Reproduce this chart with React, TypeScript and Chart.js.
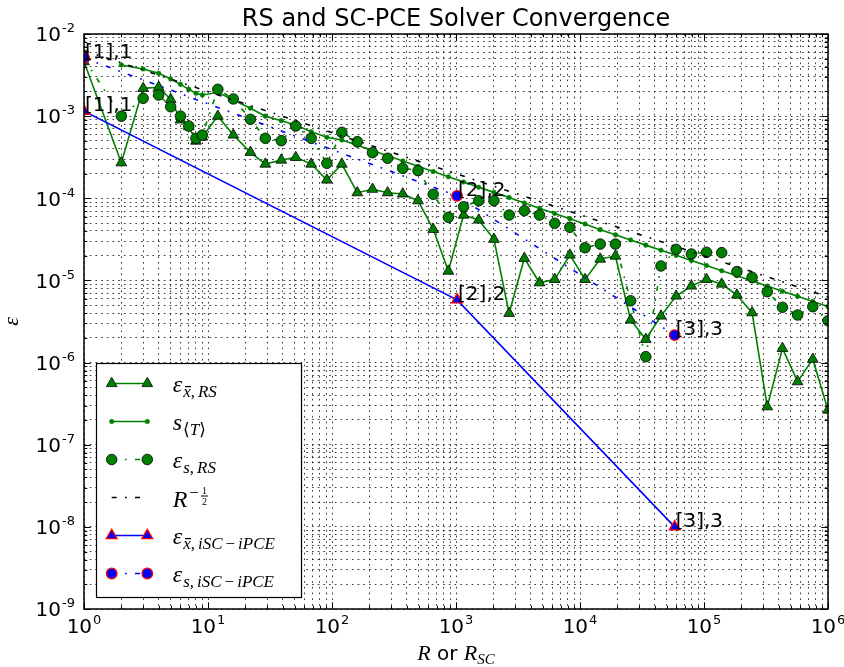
import React, { useEffect, useRef } from "react";
import { Chart, registerables } from "chart.js";

Chart.register(...registerables);

// ---------------- data ----------------
const R_RS = [
  1, 2, 3, 4, 5, 6, 7, 8, 9, 12, 16, 22, 29, 39, 51, 68, 91, 120, 160, 212, 281, 372, 494, 655, 868,
  1151, 1526, 2023, 2682, 3556, 4714, 6250, 8286, 10985, 14563, 19307, 25595, 33932, 44984, 59636,
  79060, 104811, 138950, 184207, 244205, 323746, 429193, 568987, 754312, 1000000,
];

const EPS_XBAR_RS = [
  4.6e-3, 2.71e-4, 2.18e-3, 2.25e-3, 1.6e-3, 9.0e-4, 7.45e-4, 4.97e-4, 5.57e-4, 1.0e-3, 5.9e-4,
  3.63e-4, 2.61e-4, 2.92e-4, 3.15e-4, 2.61e-4, 1.67e-4, 2.61e-4, 1.17e-4, 1.29e-4, 1.17e-4, 1.13e-4,
  9.35e-5, 4.19e-5, 1.3e-5, 6.25e-5, 5.44e-5, 3.17e-5, 3.98e-6, 1.86e-5, 9.37e-6, 1.03e-5, 2.04e-5,
  1.03e-5, 1.82e-5, 1.98e-5, 3.3e-6, 1.92e-6, 3.69e-6, 6.46e-6, 8.55e-6, 1.03e-5, 9.04e-6, 6.64e-6,
  4.05e-6, 2.9e-7, 1.49e-6, 5.85e-7, 1.1e-6, 2.64e-7,
];

const S_T = [
  null, 4.2e-3, 3.75e-3, 3.32e-3, 2.83e-3, 2.44e-3, 2.12e-3, 1.9e-3, 1.81e-3, 1.95e-3, 1.57e-3,
  1.25e-3, 1.0e-3, 8.8e-4, 7.8e-4, 6.47e-4, 5.52e-4, 5.13e-4, 4.41e-4, 3.81e-4, 3.29e-4, 2.84e-4,
  2.45e-4, 2.12e-4, 1.83e-4, 1.58e-4, 1.36e-4, 1.18e-4, 1.02e-4, 8.77e-5, 7.57e-5, 6.53e-5, 5.65e-5,
  4.87e-5, 4.15e-5, 3.59e-5, 3.11e-5, 2.69e-5, 2.33e-5, 2.02e-5, 1.75e-5, 1.52e-5, 1.31e-5, 1.14e-5,
  9.85e-6, 8.53e-6, 7.39e-6, 6.4e-6, 5.54e-6, 4.81e-6,
];

const EPS_S_RS = [
  5.0e-3, 1.0e-3, 1.65e-3, 1.81e-3, 1.3e-3, 1.0e-3, 7.58e-4, 5.37e-4, 5.89e-4, 2.12e-3, 1.62e-3,
  9.16e-4, 5.37e-4, 5.03e-4, 7.58e-4, 5.37e-4, 2.67e-4, 6.35e-4, 4.89e-4, 3.59e-4, 3.07e-4, 2.32e-4,
  2.17e-4, 1.12e-4, 5.86e-5, 7.9e-5, 9.35e-5, 9.35e-5, 6.25e-5, 7.06e-5, 6.25e-5, 4.96e-5, 4.43e-5,
  2.5e-5, 2.77e-5, 2.77e-5, 5.66e-6, 1.18e-6, 1.5e-5, 2.39e-5, 2.1e-5, 2.2e-5, 2.18e-5, 1.28e-5,
  1.09e-5, 7.29e-6, 4.71e-6, 3.8e-6, 4.79e-6, 3.23e-6,
];

const R_REF = [1, 1000000];
const REF_HALF = [6.3e-3, 6.3e-6];

const R_SC = [1, 1020, 58000];
const EPS_XBAR_SC = [1.15e-3, 5.8e-6, 1.0e-8];
const EPS_S_SC = [5.1e-3, 1.07e-4, 2.16e-6];
const SC_LABELS = ["[1],1", "[2],2", "[3],3"];

const X_EXPONENTS = [0, 1, 2, 3, 4, 5, 6];
const Y_EXPONENTS = [-9, -8, -7, -6, -5, -4, -3, -2];
const TITLE = "RS and SC-PCE Solver Convergence";

// ---------------- styles ----------------
const GREEN = "#008000";
const BLUE = "#0000ff";
const RED = "#ff0000";
const DASHDOT = [5, 8.3, 1.7, 8.3];
const LW = 1.6;

const SANS = '"DejaVu Sans"';
const SERIF = '"Liberation Serif", "DejaVu Serif", "DejaVu Sans"';

function pts(xs: number[], ys: (number | null)[]) {
  const out: { x: number; y: number }[] = [];
  xs.forEach((x, i) => {
    const y = ys[i];
    if (y !== null && y !== undefined) out.push({ x, y });
  });
  return out;
}

function logTicks(expList: number[]) {
  const t: { value: number }[] = [];
  for (let k = 0; k < expList.length - 1; k++) {
    const p = Math.pow(10, expList[k]);
    for (let m = 1; m <= 9; m++) t.push({ value: m * p });
  }
  t.push({ value: Math.pow(10, expList[expList.length - 1]) });
  return t;
}

type Seg = { t: string; f: string; dy?: number; bar?: boolean; gap?: number };

function drawSegs(ctx: CanvasRenderingContext2D, x: number, y: number, segs: Seg[], measureOnly = false) {
  let cx = x;
  for (const s of segs) {
    cx += s.gap || 0;
    ctx.font = s.f;
    const w = ctx.measureText(s.t).width;
    if (!measureOnly) {
      ctx.fillText(s.t, cx, y + (s.dy || 0));
      if (s.bar) ctx.fillRect(cx + w * 0.25, y + (s.dy || 0) - 10.5, w * 0.8, 1.2);
    }
    cx += w;
  }
  return cx - x;
}

function drawMarker(ctx: CanvasRenderingContext2D, kind: string, x: number, y: number, r: number, fill: string, edge: string, ew: number) {
  ctx.save();
  ctx.beginPath();
  if (kind === "triangle") {
    ctx.moveTo(x, y - r);
    ctx.lineTo(x + 0.866 * r, y + 0.5 * r);
    ctx.lineTo(x - 0.866 * r, y + 0.5 * r);
    ctx.closePath();
  } else {
    ctx.arc(x, y, r, 0, Math.PI * 2);
  }
  ctx.fillStyle = fill;
  ctx.fill();
  ctx.lineWidth = ew;
  ctx.strokeStyle = edge;
  ctx.stroke();
  ctx.restore();
}

function drawPow(ctx: CanvasRenderingContext2D, exp: number, x: number, baseline: number, align: "center" | "right") {
  const base = "10";
  const sup = String(exp);
  ctx.font = `20px ${SANS}`;
  const wb = ctx.measureText(base).width;
  ctx.font = `13px ${SANS}`;
  const ws = ctx.measureText(sup).width;
  const total = wb + 1 + ws;
  const left = align === "center" ? x - total / 2 : x - total;
  ctx.textAlign = "left";
  ctx.textBaseline = "alphabetic";
  ctx.font = `20px ${SANS}`;
  ctx.fillText(base, left, baseline);
  ctx.font = `13px ${SANS}`;
  ctx.fillText(sup, left + wb + 1, baseline - 9);
}

const decoPlugin = {
  id: "deco",
  afterDatasetsDraw(chart: any) {
    const ctx: CanvasRenderingContext2D = chart.ctx;
    const xs = chart.scales.x;
    const ys = chart.scales.y;
    ctx.save();
    ctx.fillStyle = "#000";
    ctx.font = `20px ${SANS}`;
    ctx.textAlign = "left";
    ctx.textBaseline = "alphabetic";
    R_SC.forEach((r, i) => {
      const px = xs.getPixelForValue(r);
      ctx.fillText(SC_LABELS[i], px + 1, ys.getPixelForValue(EPS_S_SC[i]));
      ctx.fillText(SC_LABELS[i], px + 1, ys.getPixelForValue(EPS_XBAR_SC[i]));
    });
    ctx.restore();
  },
  afterDraw(chart: any) {
    const ctx: CanvasRenderingContext2D = chart.ctx;
    const a = chart.chartArea;
    const xs = chart.scales.x;
    const ys = chart.scales.y;
    ctx.save();

    // inside tick marks on all four sides
    ctx.strokeStyle = "#000";
    ctx.lineWidth = 1;
    const xt = logTicks(X_EXPONENTS);
    xt.forEach((t) => {
      const major = Math.abs(Math.log10(t.value) - Math.round(Math.log10(t.value))) < 1e-9;
      const L = major ? 6.7 : 3.3;
      const px = Math.round(xs.getPixelForValue(t.value)) + 0.5;
      ctx.beginPath();
      ctx.moveTo(px, a.bottom);
      ctx.lineTo(px, a.bottom - L);
      ctx.moveTo(px, a.top);
      ctx.lineTo(px, a.top + L);
      ctx.stroke();
    });
    const yt = logTicks(Y_EXPONENTS);
    yt.forEach((t) => {
      const major = Math.abs(Math.log10(t.value) - Math.round(Math.log10(t.value))) < 1e-9;
      const L = major ? 6.7 : 3.3;
      const py = Math.round(ys.getPixelForValue(t.value)) + 0.5;
      ctx.beginPath();
      ctx.moveTo(a.left, py);
      ctx.lineTo(a.left + L, py);
      ctx.moveTo(a.right, py);
      ctx.lineTo(a.right - L, py);
      ctx.stroke();
    });

    // spines
    ctx.lineWidth = 1.5;
    ctx.strokeRect(a.left, a.top, a.right - a.left, a.bottom - a.top);

    // tick labels
    ctx.fillStyle = "#000";
    X_EXPONENTS.forEach((e) => drawPow(ctx, e, xs.getPixelForValue(Math.pow(10, e)), 633, "center"));
    Y_EXPONENTS.forEach((e) => drawPow(ctx, e, 75, ys.getPixelForValue(Math.pow(10, e)) + 7.3, "right"));

    // title
    ctx.font = `24px ${SANS}`;
    ctx.textAlign = "center";
    ctx.textBaseline = "alphabetic";
    ctx.fillText(TITLE, (a.left + a.right) / 2, 26);

    // x label: R or R_SC
    ctx.textAlign = "left";
    const xl: Seg[] = [
      { t: "R", f: `italic 22px ${SERIF}` },
      { t: " or ", f: `20px ${SANS}` },
      { t: "R", f: `italic 22px ${SERIF}` },
      { t: "SC", f: `italic 15px ${SERIF}`, dy: 4 },
    ];
    const wxl = drawSegs(ctx, 0, 0, xl, true);
    drawSegs(ctx, (a.left + a.right) / 2 - wxl / 2, 660, xl);

    // y label
    ctx.save();
    ctx.translate(18, (a.top + a.bottom) / 2);
    ctx.rotate(-Math.PI / 2);
    ctx.textAlign = "center";
    ctx.font = `italic 22px ${SERIF}`;
    ctx.fillText("\u03b5", 0, 0);
    ctx.restore();

    // legend
    const bx = 96.5, by = 363.5, bw = 205, bh = 234;
    ctx.fillStyle = "#fff";
    ctx.fillRect(bx, by, bw, bh);
    ctx.lineWidth = 1.2;
    ctx.strokeStyle = "#000";
    ctx.strokeRect(bx, by, bw, bh);

    const x1 = 111.7, x2 = 147.3, tx = 172.7;
    const rows = [383.5, 421.5, 459.5, 497.5, 535.5, 573.5];
    const line = (y: number, color: string, dash: number[]) => {
      ctx.save();
      ctx.strokeStyle = color;
      ctx.lineWidth = LW;
      ctx.setLineDash(dash);
      ctx.beginPath();
      ctx.moveTo(x1, y);
      ctx.lineTo(x2, y);
      ctx.stroke();
      ctx.restore();
    };
    // handles
    line(rows[0], GREEN, []);
    drawMarker(ctx, "triangle", x1, rows[0], 6.2, GREEN, "#000", 0.8);
    drawMarker(ctx, "triangle", x2, rows[0], 6.2, GREEN, "#000", 0.8);
    line(rows[1], GREEN, []);
    drawMarker(ctx, "circle", x1, rows[1], 2.3, GREEN, GREEN, 0.5);
    drawMarker(ctx, "circle", x2, rows[1], 2.3, GREEN, GREEN, 0.5);
    line(rows[2], GREEN, DASHDOT);
    drawMarker(ctx, "circle", x1, rows[2], 5.3, GREEN, "#000", 0.8);
    drawMarker(ctx, "circle", x2, rows[2], 5.3, GREEN, "#000", 0.8);
    line(rows[3], "#000", DASHDOT);
    line(rows[4], BLUE, []);
    drawMarker(ctx, "triangle", x1, rows[4], 6.2, BLUE, RED, 1.3);
    drawMarker(ctx, "triangle", x2, rows[4], 6.2, BLUE, RED, 1.3);
    line(rows[5], BLUE, DASHDOT);
    drawMarker(ctx, "circle", x1, rows[5], 5.3, BLUE, RED, 1.3);
    drawMarker(ctx, "circle", x2, rows[5], 5.3, BLUE, RED, 1.3);

    // labels
    ctx.fillStyle = "#000";
    ctx.textAlign = "left";
    ctx.textBaseline = "alphabetic";
    const LM = `italic 24px ${SERIF}`;
    const LS = `italic 17px ${SERIF}`;
    const LU = `17px ${SERIF}`;
    const eps: Seg = { t: "\u03b5", f: LM };
    const xbar: Seg = { t: "x", f: LS, dy: 5, bar: true, gap: 1 };
    const comma: Seg = { t: ",", f: LU, dy: 5 };
    const rs: Seg = { t: "RS", f: LS, dy: 5, gap: 3 };
    const isc: Seg[] = [
      { t: "iSC", f: LS, dy: 5, gap: 3 },
      { t: "\u2212", f: LU, dy: 5, gap: 3 },
      { t: "iPCE", f: LS, dy: 5, gap: 3 },
    ];
    drawSegs(ctx, tx, rows[0] + 8, [eps, xbar, comma, rs]);
    drawSegs(ctx, tx, rows[1] + 8, [
      { t: "s", f: LM },
      { t: "\u27e8", f: LU, dy: 5, gap: 1 },
      { t: "T", f: LS, dy: 5 },
      { t: "\u27e9", f: LU, dy: 5 },
    ]);
    drawSegs(ctx, tx, rows[2] + 8, [eps, { t: "s", f: LS, dy: 5, gap: 1 }, comma, rs]);
    // R^{-1/2}
    const wR = drawSegs(ctx, tx, rows[3] + 9, [{ t: "R", f: LM }]);
    const mx = tx + wR + 2;
    ctx.font = LU;
    ctx.fillText("\u2212", mx, rows[3]);
    const wm = ctx.measureText("\u2212").width;
    const fx = mx + wm + 2;
    ctx.font = `10px ${SERIF}`;
    const fw = ctx.measureText("2").width + 2;
    ctx.fillText("1", fx + 1, rows[3] - 3.5);
    ctx.fillRect(fx, rows[3] - 2, fw, 1);
    ctx.fillText("2", fx + 1, rows[3] + 7);
    drawSegs(ctx, tx, rows[4] + 8, [eps, xbar, comma, ...isc]);
    drawSegs(ctx, tx, rows[5] + 8, [eps, { t: "s", f: LS, dy: 5, gap: 1 }, comma, ...isc]);

    ctx.restore();
  },
};

export default function App() {
  const ref = useRef<HTMLCanvasElement | null>(null);
  useEffect(() => {
    if (!ref.current) return;
    const gridCommon = {
      color: "rgba(0,0,0,0.75)",
      lineWidth: 1,
      drawTicks: false,
      tickLength: 0,
    };
    const chart = new Chart(ref.current, {
      type: "line",
      data: {
        datasets: [
          {
            label: "eps_xbar_RS",
            data: pts(R_RS, EPS_XBAR_RS),
            borderColor: GREEN,
            backgroundColor: GREEN,
            borderWidth: LW,
            pointStyle: "triangle",
            pointRadius: 6.2,
            pointBackgroundColor: GREEN,
            pointBorderColor: "#000",
            pointBorderWidth: 0.8,
            fill: false,
            tension: 0,
            order: 6,
          },
          {
            label: "s_T",
            data: pts(R_RS, S_T),
            borderColor: GREEN,
            backgroundColor: GREEN,
            borderWidth: LW,
            pointStyle: "circle",
            pointRadius: 2.3,
            pointBackgroundColor: GREEN,
            pointBorderColor: GREEN,
            pointBorderWidth: 0.5,
            fill: false,
            tension: 0,
            order: 5,
          },
          {
            label: "eps_s_RS",
            data: pts(R_RS, EPS_S_RS),
            borderColor: GREEN,
            backgroundColor: GREEN,
            borderWidth: LW,
            borderDash: DASHDOT,
            pointStyle: "circle",
            pointRadius: 5.3,
            pointBackgroundColor: GREEN,
            pointBorderColor: "#000",
            pointBorderWidth: 0.8,
            fill: false,
            tension: 0,
            order: 4,
          },
          {
            label: "R^-1/2",
            data: pts(R_REF, REF_HALF),
            borderColor: "#000",
            borderWidth: LW,
            borderDash: DASHDOT,
            pointRadius: 0,
            fill: false,
            tension: 0,
            order: 3,
          },
          {
            label: "eps_xbar_SC",
            data: pts(R_SC, EPS_XBAR_SC),
            borderColor: BLUE,
            backgroundColor: BLUE,
            borderWidth: LW,
            pointStyle: "triangle",
            pointRadius: 6.2,
            pointBackgroundColor: BLUE,
            pointBorderColor: RED,
            pointBorderWidth: 1.3,
            fill: false,
            tension: 0,
            order: 2,
          },
          {
            label: "eps_s_SC",
            data: pts(R_SC, EPS_S_SC),
            borderColor: BLUE,
            backgroundColor: BLUE,
            borderWidth: LW,
            borderDash: DASHDOT,
            pointStyle: "circle",
            pointRadius: 5.3,
            pointBackgroundColor: BLUE,
            pointBorderColor: RED,
            pointBorderWidth: 1.3,
            fill: false,
            tension: 0,
            order: 1,
          },
        ],
      },
      options: {
        animation: false,
        responsive: false,
        maintainAspectRatio: false,
        devicePixelRatio: 1,
        layout: { padding: { left: 0, right: 16, top: 34, bottom: 0 } },
        plugins: {
          legend: { display: false },
          title: { display: false },
          tooltip: { enabled: false },
        },
        events: [],
        scales: {
          x: {
            type: "logarithmic",
            min: 1,
            max: 1e6,
            ticks: { display: false },
            grid: gridCommon,
            border: { display: false, dash: [1.7, 4] },
            afterBuildTicks: (s: any) => {
              s.ticks = logTicks(X_EXPONENTS);
            },
            afterFit: (s: any) => {
              s.height = 58;
            },
          },
          y: {
            type: "logarithmic",
            min: 1e-9,
            max: 1e-2,
            ticks: { display: false },
            grid: gridCommon,
            border: { display: false, dash: [1.7, 4] },
            afterBuildTicks: (s: any) => {
              s.ticks = logTicks(Y_EXPONENTS);
            },
            afterFit: (s: any) => {
              s.width = 84;
            },
          },
        },
      } as any,
      plugins: [decoPlugin],
    });
    return () => chart.destroy();
  }, []);

  return (
    <div style={{ position: "fixed", left: 0, top: 0, width: 844, height: 667, background: "#fff" }}>
      <canvas ref={ref} width={844} height={667} style={{ display: "block", width: 844, height: 667 }} />
    </div>
  );
}
